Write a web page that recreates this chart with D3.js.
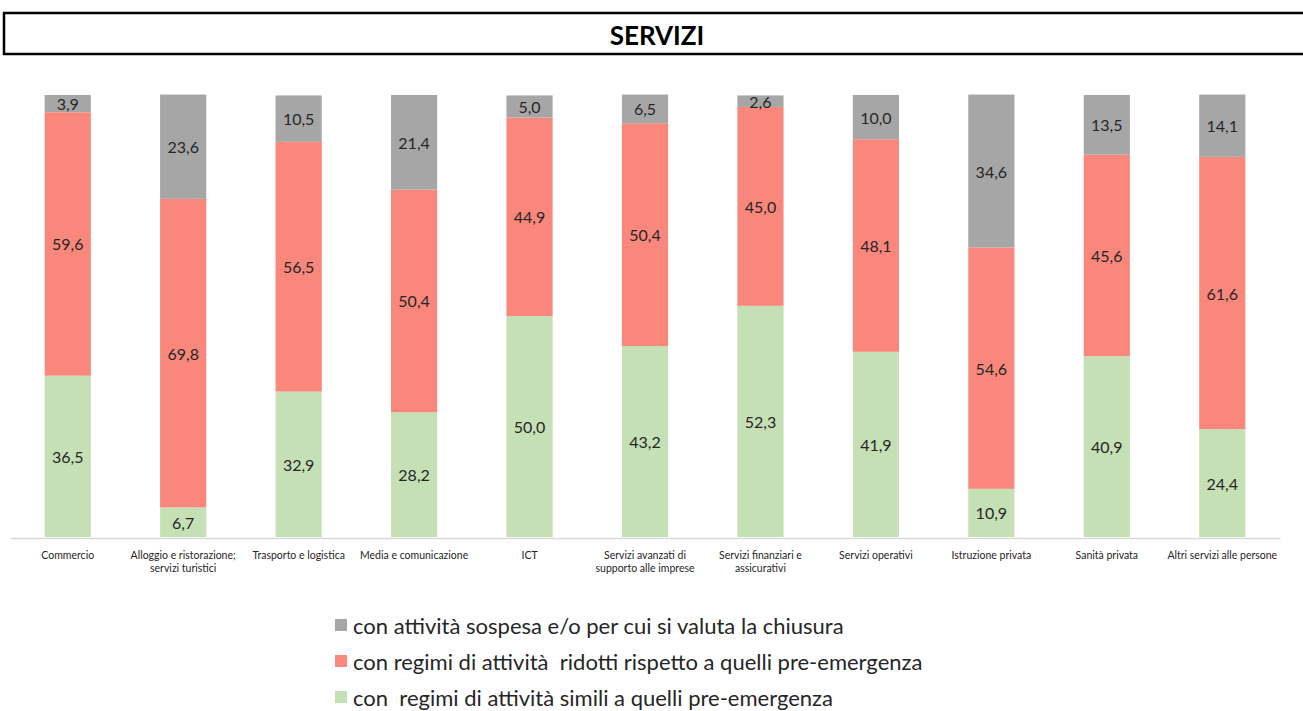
<!DOCTYPE html>
<html>
<head>
<meta charset="utf-8">
<script src="https://cdn.jsdelivr.net/npm/d3@7"></script>
<style>
	body { margin: 0; background: #fff; }
	svg { display: block; font-family: Lato, "Liberation Sans", sans-serif; }
</style>
</head>
<body>
<svg width="1303" height="711"></svg>
<script>
const categories = [
	"Commercio",
	"Alloggio e ristorazione;\nservizi turistici",
	"Trasporto e logistica",
	"Media e comunicazione",
	"ICT",
	"Servizi avanzati di\nsupporto alle imprese",
	"Servizi finanziari e\nassicurativi",
	"Servizi operativi",
	"Istruzione privata",
	"Sanità privata",
	"Altri servizi alle persone"
];
const simili = [36.5, 6.7, 32.9, 28.2, 50.0, 43.2, 52.3, 41.9, 10.9, 40.9, 24.4];
const ridotti = [59.6, 69.8, 56.5, 50.4, 44.9, 50.4, 45.0, 48.1, 54.6, 45.6, 61.6];
const sospesa = [3.9, 23.6, 10.5, 21.4, 5.0, 6.5, 2.6, 10.0, 34.6, 13.5, 14.1];

const seriesNames = [
	"con  regimi di attività simili a quelli pre-emergenza",
	"con regimi di attività  ridotti rispetto a quelli pre-emergenza",
	"con attività sospesa e/o per cui si valuta la chiusura"
];
const colors = ["#c5e0b4", "#f9877c", "#a6a6a6"];

const rows = categories.map((c, i) => ({ cat: c, s0: simili[i], s1: ridotti[i], s2: sospesa[i] }));
const keys = ["s0", "s1", "s2"];

const svg = d3.select("svg");

// title box
svg.append("rect")
	.attr("x", 4).attr("y", 13)
	.attr("width", 1310).attr("height", 41)
	.attr("fill", "none")
	.attr("stroke", "#000")
	.attr("stroke-width", 2.5);

svg.append("text")
	.attr("x", 657).attr("y", 35)
	.attr("text-anchor", "middle")
	.attr("dominant-baseline", "central")
	.attr("font-size", 26)
	.attr("font-weight", "bold")
	.text("SERVIZI");

const x = d3.scaleBand()
	.domain(categories)
	.range([10, 1280])
	.paddingInner(0.6)
	.paddingOuter(0.3);

const y = d3.scaleLinear()
	.domain([0, 100])
	.range([537, 95]);

const stack = d3.stack().keys(keys)(rows);

const layer = svg.append("g")
	.selectAll("g")
	.data(stack)
	.join("g")
	.attr("fill", (d, i) => colors[i]);

layer.selectAll("rect")
	.data(d => d)
	.join("rect")
	.attr("x", d => x(d.data.cat))
	.attr("width", x.bandwidth())
	.attr("y", d => y(d[1]))
	.attr("height", d => y(d[0]) - y(d[1]));

layer.selectAll("text")
	.data(d => d)
	.join("text")
	.attr("x", d => x(d.data.cat) + x.bandwidth() / 2)
	.attr("y", d => (y(d[0]) + y(d[1])) / 2)
	.attr("text-anchor", "middle")
	.attr("dominant-baseline", "central")
	.attr("font-size", 16)
	.attr("fill", "#262626")
	.text(d => d3.format(".1f")(d[1] - d[0]).replace(".", ","));

// x axis
const axis = svg.append("g")
	.attr("transform", "translate(0,538)")
	.call(d3.axisBottom(x).tickSize(0).tickSizeOuter(0).tickFormat(""));

axis.attr("font-family", null);
axis.select(".domain").attr("stroke", "#d9d9d9").attr("stroke-width", 1.5);

axis.selectAll(".tick text").remove();
axis.selectAll(".tick").each(function(d) {
	const t = d3.select(this).append("text")
		.attr("fill", "#262626")
		.attr("font-size", 10.5)
		.attr("text-anchor", "middle")
		.attr("y", 21);
	d.split("\n").forEach((line, k) => {
		t.append("tspan").attr("x", 0).attr("dy", k ? 13 : 0).text(line);
	});
});

// legend, reversed order like the stack
const legend = svg.append("g")
	.selectAll("g")
	.data([2, 1, 0])
	.join("g")
	.attr("transform", (d, i) => `translate(335,${625 + i * 36})`);

legend.append("rect")
	.attr("x", 0).attr("y", -6)
	.attr("width", 12).attr("height", 12)
	.attr("fill", d => colors[d]);

legend.append("text")
	.attr("x", 18)
	.attr("dominant-baseline", "central")
	.attr("font-size", 22)
	.attr("fill", "#262626")
	.style("white-space", "pre")
	.text(d => seriesNames[d]);
</script>
</body>
</html>
